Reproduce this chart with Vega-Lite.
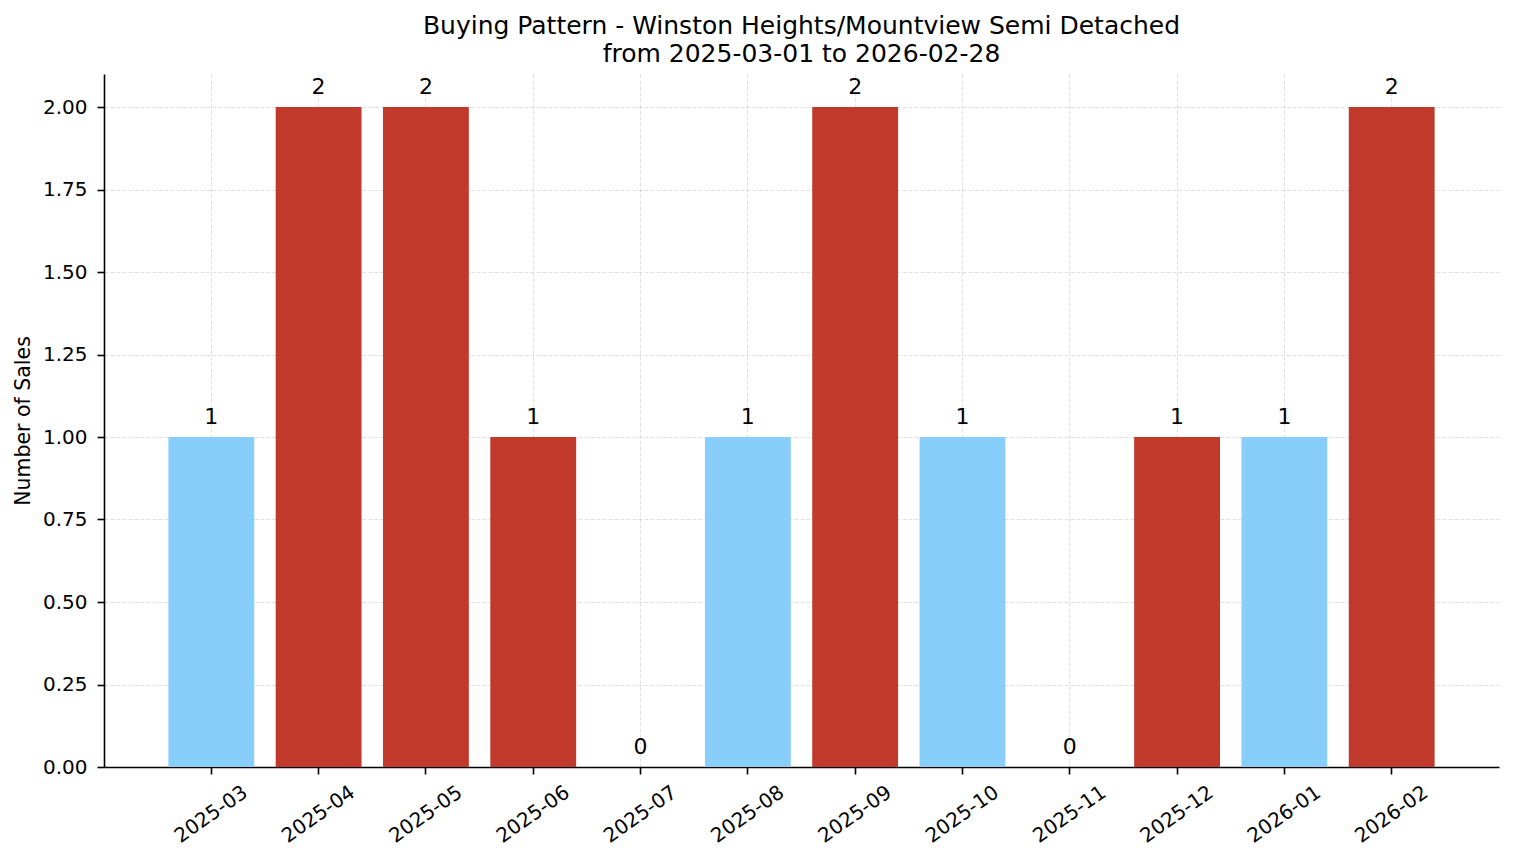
{
  "$schema": "https://vega.github.io/schema/vega-lite/v6.json",
  "width": 1395,
  "height": 693,
  "autosize": {"type": "none"},
  "padding": {"left": 104, "top": 74, "right": 15, "bottom": 96},
  "background": "white",
  "title": {
    "text": ["Buying Pattern - Winston Heights/Mountview Semi Detached", "from 2025-03-01 to 2026-02-28"],
    "font": "DejaVu Sans",
    "fontSize": 25,
    "fontWeight": "normal",
    "lineHeight": 28,
    "color": "black",
    "anchor": "middle",
    "frame": "group",
    "offset": 7
  },
  "config": {
    "view": {"stroke": null},
    "font": "DejaVu Sans",
    "axis": {
      "labelFont": "DejaVu Sans",
      "labelFontSize": 20,
      "labelColor": "black",
      "titleFont": "DejaVu Sans",
      "titleFontSize": 20.5,
      "titleFontWeight": "normal",
      "titleColor": "black",
      "domainColor": "black",
      "domainWidth": 1.6,
      "tickColor": "black",
      "tickWidth": 1.6,
      "tickSize": 7,
      "gridColor": "#b0b0b0",
      "gridOpacity": 0.5,
      "gridWidth": 0.8,
      "gridDash": [4, 2],
      "zindex": 1
    }
  },
  "data": {
    "values": [
      {"month": "2025-03", "sales": 1, "segment": "low"},
      {"month": "2025-04", "sales": 2, "segment": "high"},
      {"month": "2025-05", "sales": 2, "segment": "high"},
      {"month": "2025-06", "sales": 1, "segment": "high"},
      {"month": "2025-07", "sales": 0, "segment": "low"},
      {"month": "2025-08", "sales": 1, "segment": "low"},
      {"month": "2025-09", "sales": 2, "segment": "high"},
      {"month": "2025-10", "sales": 1, "segment": "low"},
      {"month": "2025-11", "sales": 0, "segment": "low"},
      {"month": "2025-12", "sales": 1, "segment": "high"},
      {"month": "2026-01", "sales": 1, "segment": "low"},
      {"month": "2026-02", "sales": 2, "segment": "high"}
    ]
  },
  "encoding": {
    "x": {
      "field": "month",
      "type": "ordinal",
      "sort": null,
      "title": null,
      "scale": {"paddingInner": 0.2, "paddingOuter": 0.6},
      "axis": {
        "labelAngle": -35,
        "labelAlign": "center",
        "labelBaseline": "middle",
        "labelPadding": 40,
        "bandPosition": 0.5,
        "grid": true
      }
    },
    "y": {
      "field": "sales",
      "type": "quantitative",
      "title": "Number of Sales",
      "scale": {"domain": [0, 2.1], "nice": false, "zero": true},
      "axis": {
        "values": [0, 0.25, 0.5, 0.75, 1, 1.25, 1.5, 1.75, 2],
        "format": ".2f",
        "labelPadding": 10,
        "titlePadding": 9,
        "grid": true
      }
    }
  },
  "layer": [
    {
      "mark": {"type": "bar"},
      "encoding": {
        "color": {
          "field": "segment",
          "type": "nominal",
          "scale": {"domain": ["low", "high"], "range": ["#87CEFA", "#C0392B"]},
          "legend": null
        }
      }
    },
    {
      "mark": {
        "type": "text",
        "baseline": "alphabetic",
        "align": "center",
        "dy": -13,
        "fontSize": 22,
        "font": "DejaVu Sans",
        "color": "black"
      },
      "encoding": {
        "text": {"field": "sales", "type": "quantitative", "format": "d"}
      }
    }
  ]
}
